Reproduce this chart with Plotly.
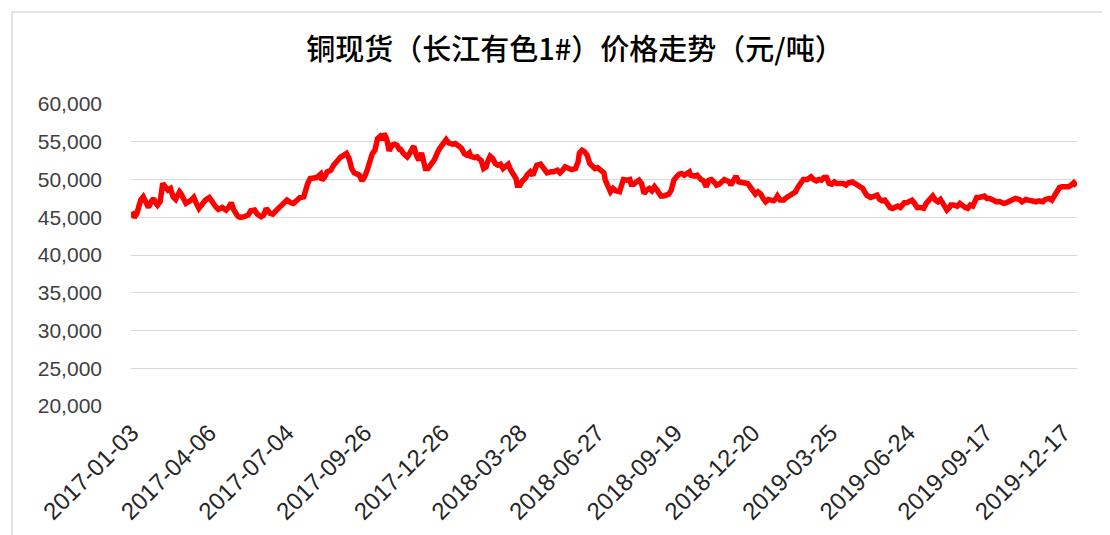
import plotly.graph_objects as go

# Trading-day index (0 = 2017-01-03) and copper spot price (yuan/tonne)
day_index = [
    0, 2, 4, 6, 7, 9, 11, 13, 15, 17, 18, 20, 22, 24, 26, 28, 30, 32, 34, 37, 38, 40, 42, 46, 48, 50, 52, 55, 57, 60,
    62, 65, 67, 70, 73, 75, 77, 79, 82, 84, 87, 90, 92, 95, 97, 100, 102, 104, 107, 109, 112, 115,
    118, 120, 123, 125, 128, 130, 133, 134, 136, 138, 141, 143, 146, 147, 149, 151, 154, 156, 159, 161, 164, 166, 168,
    170, 172, 174, 176, 178, 180, 182, 184, 186, 188, 190, 192, 194, 195, 197, 199, 201, 203, 205, 207, 208, 210, 213,
    214, 216, 218, 220, 222, 224, 225, 227, 229, 231, 234, 236, 238,
    243, 245, 248, 250, 253, 255, 257, 259, 261, 262, 265, 267, 268, 270, 272, 274, 275, 277, 279, 281, 283, 285, 287,
    289, 291, 293, 295, 297, 298, 300, 302, 304, 306, 308, 310, 311, 313, 316, 317, 319, 321, 324, 326, 329, 331, 333,
    335, 338, 340, 343, 345, 346, 348, 350, 352, 354, 356, 358, 360, 362,
    365, 366, 368, 370, 372, 374, 377, 378, 380, 383, 385, 386, 388, 390, 392, 394, 396, 398, 400, 402, 404, 406, 407,
    409, 411, 413, 415, 417, 419, 421, 423, 425, 427, 429, 431, 432, 435, 437, 438, 440, 442, 444, 446, 448, 450, 452,
    454, 456, 458, 460, 462, 463, 465, 467, 469, 471, 473, 476, 478, 480, 482, 484, 486,
    488, 490, 492, 494, 496, 498, 499, 501, 504, 505, 507, 509, 511, 513, 515, 517, 519, 522, 523, 525, 527, 529, 531,
    533, 535, 537, 539, 541, 543, 545, 547, 550, 552, 554, 557, 559, 562, 565, 566, 568, 571, 574, 576, 578, 580, 582,
    584, 586, 588, 590, 592, 594, 596, 597, 599, 601, 603, 605, 607, 609,
    612, 614, 615, 617, 619, 621, 623, 625, 626, 628, 630, 632, 633, 635, 638, 640, 642, 644, 646, 648, 650, 651, 653,
    655, 657, 659, 661, 663, 666, 668, 671, 674, 676, 678, 681, 683, 686, 688, 691, 693, 696, 699, 701, 704, 706, 709,
    711, 713, 715, 717, 719, 722, 724, 726, 728, 730,
]

price = [
    45730, 44980, 45500, 46600, 47270, 47700, 46830, 46300, 47050, 47490, 47050, 46600, 47050, 49470, 49030, 48590,
    48810, 47700, 47360, 48370, 48150, 47270, 46830, 47270, 47620, 46830, 46170, 46830, 47270, 47620,
    47050, 46390, 46040, 46300, 45950, 46300, 46920, 45950, 45150, 44980, 45070, 45290, 45860, 45950, 45420, 45070,
    45290, 46170, 45510, 45420, 45950, 46480,
    47050, 47270, 46920, 46830, 47270, 47620, 47700, 48370, 49470, 50130, 50260, 50260, 50700, 49910, 50260, 51010,
    51230, 51890, 52470, 52910, 53220, 53440, 52780,
    51450, 50880, 50700, 50570, 49820, 50350, 51230, 52470, 53440, 53880, 55420, 55730, 55290, 56080, 55420, 53790,
    54540, 54670, 54540, 53970, 53970, 53440, 52990,
    53220, 53790, 54410, 53220, 52560, 53520, 52990, 51450, 51450, 51890, 52640, 53440, 54100,
    55290, 54850, 54670, 54760, 54410, 54100, 53440, 53220, 53520, 53080, 52910, 53000, 52780, 52560, 51450, 51670,
    52340, 53080, 52780, 52120, 51890, 52030, 51450,
    51670, 52030, 51230, 50790, 50130, 49250, 49250, 49820, 50130, 50700, 51010, 50570, 51230, 51890, 52030, 51760,
    51230, 50880, 51010, 51010, 51230, 50880, 51230,
    51670, 51450, 51320, 51450, 52340, 53520, 53880, 53660, 53220, 52120, 51760, 51450, 51580, 51230,
    50880, 49910, 49250, 48370, 48810, 48500, 48370, 49030, 50000, 49910, 50000, 49380, 49380, 49690, 49910, 49470,
    48150, 48590, 48810, 48500, 49030, 48590, 48370,
    47800, 47800, 47930, 48060, 48590, 49910, 50350, 50700, 50790, 50570, 50790, 51010, 50570, 50440, 50570, 50260,
    50000, 49820, 49030, 49910, 50000, 49690, 49250,
    49380, 49690, 50000, 49820, 49690, 49250, 49820, 50440, 49690, 49560, 49560, 49470, 49030, 48500, 48060, 48370,
    48100,
    47490, 47050, 47360, 47270, 47180, 47490, 47800, 47270, 47270, 47490, 47710, 48060, 48150, 48370, 49030, 49690,
    50000, 50000, 50130, 50350, 50000, 49820, 50000,
    49910, 50260, 50260, 49470, 49380, 49690, 49470, 49470, 49470, 49250, 49560, 49690, 49470, 49250, 48810, 48500,
    47930, 47620, 47930, 47930, 47360, 47180, 47270,
    46830, 46300, 46170, 46390, 46480, 46300, 46610, 46920, 46920, 47180, 47270, 46830, 46300, 46300,
    46170, 46830, 47050, 47270, 47800, 47270, 47050, 47360, 47050, 46300, 45950, 46300, 46610, 46610, 46480, 46830,
    46480, 46300, 46170, 46610, 46480, 46830, 47620,
    47620, 47710, 47800, 47490, 47490, 47270, 47050, 47050, 46830, 46920, 47180, 47360, 47490, 47360, 47050, 47360,
    47270, 47180, 47050, 47180, 47050, 47360, 47490,
    47270, 47930, 48590, 48940, 49030, 49030, 49030, 49250, 49560, 49120,
]

tick_index = [0, 60, 120, 180, 240, 300, 360, 420, 480, 540, 600, 660, 720]
tick_labels = [
    "2017-01-03", "2017-04-06", "2017-07-04", "2017-09-26", "2017-12-26", "2018-03-28", "2018-06-27",
    "2018-09-19", "2018-12-20", "2019-03-25", "2019-06-24", "2019-09-17", "2019-12-17",
]
n_days = 731

title_text = "铜现货（长江有色1#）价格走势（元/吨）"

W, H = 1102, 527
L, T, PW, PH = 123, 96, 946, 302

fig = go.Figure()
fig.add_trace(go.Scatter(
    x=day_index, y=price, mode="lines",
    line=dict(color="#FF0000", width=5.5),
    hoverinfo="skip", showlegend=False,
))

fig.update_layout(
    width=W, height=H,
    margin=dict(l=L, r=W - L - PW, t=T, b=H - T - PH, autoexpand=False),
    paper_bgcolor="white", plot_bgcolor="white",
    title=dict(
        text=title_text, x=567 / W, xref="container", xanchor="center",
        y=1 - 42 / H, yref="container", yanchor="middle",
        font=dict(family="Noto Sans CJK SC", size=29, color="#000000", weight=500),
    ),
    font=dict(family="Liberation Sans, Arial, sans-serif"),
    showlegend=False,
)

fig.update_xaxes(
    range=[-0.5, n_days - 0.5],
    tickmode="array", tickvals=tick_index, ticktext=tick_labels,
    tickangle=-45, showgrid=False, zeroline=False, showline=False,
    ticks="", tickfont=dict(size=24, color="#262626"),
    ticklabelstandoff=7,
)
fig.update_yaxes(
    range=[20000, 60000], dtick=5000, tickformat=",",
    showgrid=True, gridcolor="#D9D9D9", gridwidth=1.3,
    zeroline=False, showline=False, ticks="",
    tickfont=dict(size=21, color="#404040"),
    ticklabelstandoff=28,
)

# light outer chart border
fig.add_shape(
    type="rect", xref="paper", yref="paper",
    x0=(4 - L) / PW, x1=1.2, y0=-0.7, y1=1 + (T - 4) / PH,
    line=dict(color="#D9D9D9", width=1.5), fillcolor="rgba(0,0,0,0)", layer="below",
)

fig.write_html("out.html")
